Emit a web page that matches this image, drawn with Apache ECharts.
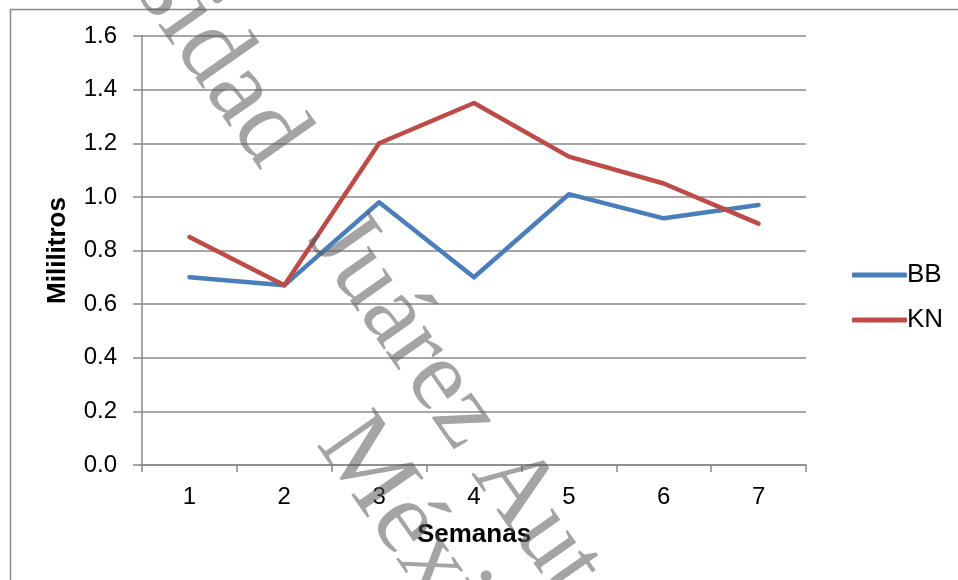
<!DOCTYPE html>
<html>
<head>
<meta charset="utf-8">
<script src="https://cdn.jsdelivr.net/npm/echarts@6/dist/echarts.min.js"></script>
<style>
  html, body { margin: 0; padding: 0; background: #fff; }
  #chart { width: 958px; height: 580px; }
</style>
</head>
<body>
<div id="chart"></div>
<script>
// Weekly volume (mL) for the two groups
const semanas = ['1', '2', '3', '4', '5', '6', '7'];
const bb = [0.70, 0.67, 0.98, 0.70, 1.01, 0.92, 0.97];
const kn = [0.85, 0.67, 1.20, 1.35, 1.15, 1.05, 0.90];
const yTicks = { min: 0, max: 1.6, interval: 0.2 };

const chart = echarts.init(document.getElementById('chart'));
const font = '"Liberation Sans", Arial, sans-serif';
const serif = '"Liberation Serif", "Times New Roman", serif';
const gridColor = '#888888';
const deg = Math.PI / 180;
const markFill = 'rgba(90,90,90,0.55)';

// diagonal watermark word
function mark(text, x, y, size) {
  return { type: 'text', x: x, y: y, rotation: -55 * deg, z: 100, silent: true,
    style: { text: text, fontFamily: serif, fontSize: size, fill: markFill,
      textAlign: 'left', textVerticalAlign: 'bottom' } };
}

chart.setOption({
  animation: false,
  backgroundColor: '#ffffff',
  textStyle: { fontFamily: font },
  grid: { left: 142, right: 152, top: 36, bottom: 115 },
  xAxis: {
    type: 'category',
    data: semanas,
    boundaryGap: true,
    name: 'Semanas',
    nameLocation: 'middle',
    nameGap: 57,
    nameTextStyle: { fontFamily: font, fontSize: 26, fontWeight: 'bold', color: '#000' },
    axisLine: { lineStyle: { color: gridColor, width: 1.5 } },
    axisTick: { show: true, length: 7, alignWithLabel: false, lineStyle: { color: gridColor, width: 1.5 } },
    axisLabel: { fontFamily: font, fontSize: 24, color: '#000', margin: 20 }
  },
  yAxis: {
    type: 'value',
    min: yTicks.min,
    max: yTicks.max,
    interval: yTicks.interval,
    name: 'Mililitros',
    nameLocation: 'middle',
    nameGap: 71,
    nameRotate: 90,
    nameTextStyle: { fontFamily: font, fontSize: 26, fontWeight: 'bold', color: '#000' },
    axisLine: { show: true, lineStyle: { color: gridColor, width: 1.5 } },
    axisTick: { show: true, length: 9, lineStyle: { color: gridColor, width: 1.5 } },
    axisLabel: { fontFamily: font, fontSize: 24, color: '#000', margin: 25,
      formatter: v => v.toFixed(1) },
    splitLine: { lineStyle: { color: gridColor, width: 1.5 } }
  },
  legend: {
    orient: 'vertical',
    left: 847,
    top: 257,
    itemGap: 19,
    itemWidth: 55,
    itemHeight: 5,
    icon: 'roundRect',
    textStyle: { fontFamily: font, fontSize: 26, color: '#000', padding: [0, 0, 0, -5] },
    data: ['BB', 'KN']
  },
  series: [
    { name: 'BB', type: 'line', data: bb, symbol: 'none', showSymbol: false,
      lineStyle: { color: '#4A7EBB', width: 4.5, cap: 'round', join: 'round' },
      itemStyle: { color: '#4A7EBB' } },
    { name: 'KN', type: 'line', data: kn, symbol: 'none', showSymbol: false,
      lineStyle: { color: '#BE4B48', width: 4.5, cap: 'round', join: 'round' },
      itemStyle: { color: '#BE4B48' } }
  ],
  graphic: [
    // outer chart-area frame
    { type: 'rect', left: 8, top: 7, z: -1,
      shape: { x: 0, y: 0, width: 1000, height: 600 },
      style: { fill: 'none', stroke: gridColor, lineWidth: 1.5 } },
    // institutional watermark
    mark('Universidad', -54, -235, 105),
    mark('Juárez Autónoma de Tabasco', 287, 253, 102),
    mark('México', 295, 458, 105)
  ]
});
</script>
</body>
</html>
